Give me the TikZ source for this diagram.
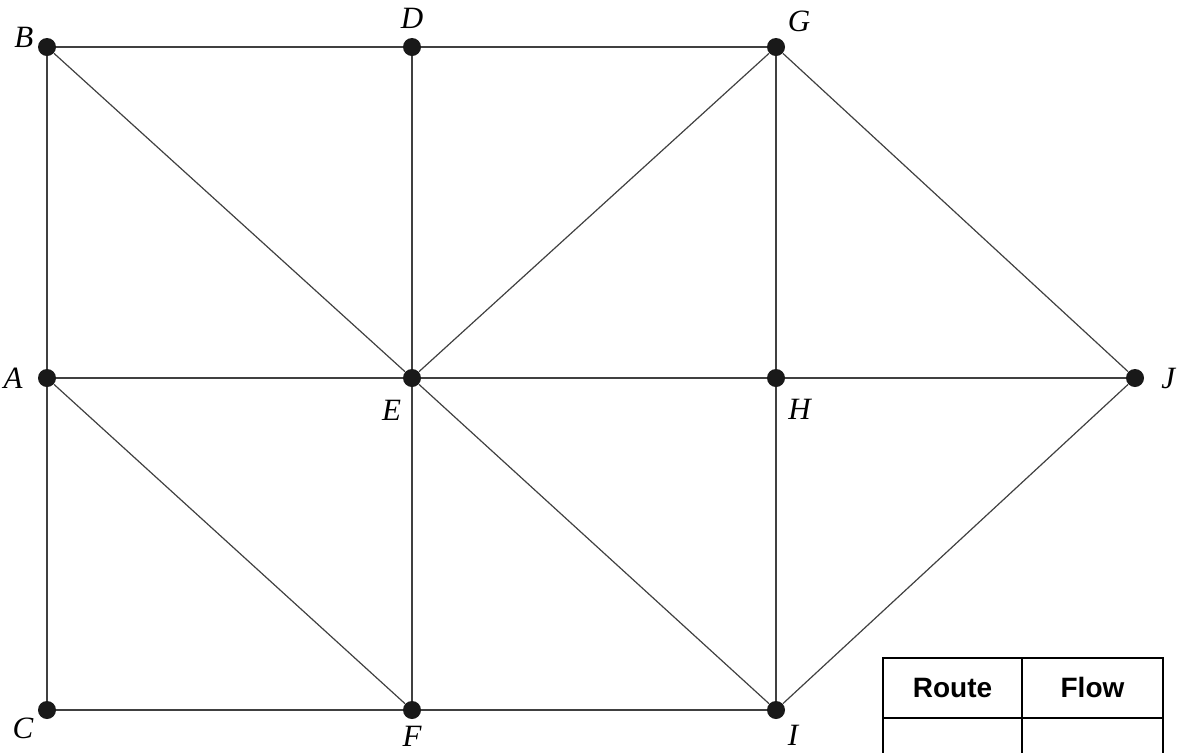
\documentclass[tikz,border=0pt]{standalone}
\usepackage{fontspec}
\setmainfont{Liberation Serif}
\setsansfont{Liberation Sans}
\usetikzlibrary{positioning}

\begin{document}
\begin{tikzpicture}[
	x=0.5pt, y=-0.5pt,
	font=\fontsize{15.5}{18}\selectfont\itshape,
	pt/.style={circle, fill=black!90, inner sep=0pt, minimum size=9pt},
	ed/.style={black!75, line width=0.6pt},
	cell/.style={font=\fontsize{14}{16}\selectfont\sffamily\bfseries, anchor=base},
]
\clip (0,0) rectangle (1179,752);
\node[pt, label={[inner sep=2pt, yshift=5pt]left:B}] (B) at (47,47) {};
\node[pt, label={[label distance=1pt]90:D}] (D) at (412,47) {};
\node[pt, label={[label distance=0pt]60:G}] (G) at (776,47) {};
\node[pt, label={[label distance=4pt]180:A}] (A) at (47,378) {};
\node[pt, label={[label distance=3pt]255:E}] (E) at (412,378) {};
\node[pt, label={[label distance=3pt]290:H}] (H) at (776,378) {};
\node[pt, label={[label distance=5pt]0:J}] (J) at (1135,378) {};
\node[pt, label={[inner sep=2pt, yshift=-9pt]left:C}] (C) at (47,710) {};
\node[pt, label={[label distance=0pt]270:F}] (F) at (412,710) {};
\node[pt, label={[label distance=0pt]300:I}] (I) at (776,710) {};
% edges
\draw[ed] (B)--(D) (D)--(G) (A)--(E) (E)--(H) (H)--(J) (C)--(F) (F)--(I);
\draw[ed] (B)--(A) (A)--(C) (D)--(E) (E)--(F) (G)--(H) (H)--(I);
\draw[ed] (B)--(E) (E)--(G) (G)--(J) (A)--(F) (E)--(I) (I)--(J);
% table
\draw[line width=1pt] (883,658) rectangle (1163,790);
\draw[line width=1pt] (1022,658)--(1022,790) (883,718)--(1163,718);
\node[cell] (route) at (952.5,697) {Route};
\node[cell] (flow) at (1092.5,697) {Flow};
\end{tikzpicture}
\end{document}
